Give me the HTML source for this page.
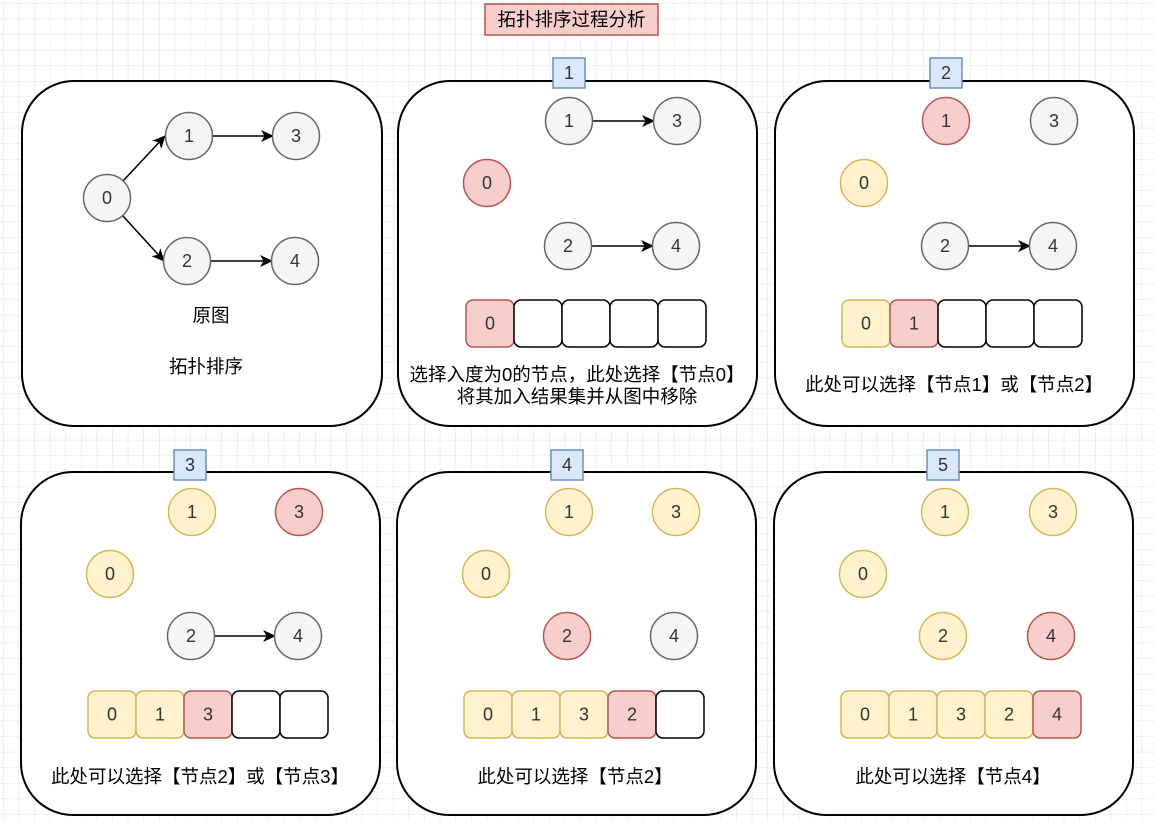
<!DOCTYPE html>
<html><head><meta charset="utf-8"><style>
html,body{margin:0;padding:0;background:#fff}
svg{display:block}
text{font-family:"Liberation Sans","Noto Sans CJK SC",sans-serif}
</style></head><body>
<svg width="1155" height="822" viewBox="0 0 1155 822" xmlns="http://www.w3.org/2000/svg">
<defs>
<pattern id="g" width="15.6" height="15.6" patternUnits="userSpaceOnUse" x="3" y="3">
<path d="M0 0H15.6M0 0V15.6" stroke="#e0e0e0" stroke-width="1" fill="none"/>
</pattern>
<marker id="a" markerWidth="13" markerHeight="12" refX="12" refY="6" orient="auto" markerUnits="userSpaceOnUse">
<path d="M0 0L13 6L0 12L3.5 6Z" fill="#000"/>
</marker>
<style>
.p{fill:#fff;stroke:#000;stroke-width:2}
.n{fill:#f5f5f5;stroke:#666;stroke-width:1.5}
.r{fill:#f8cecc;stroke:#b85450;stroke-width:1.5}
.y{fill:#fff2cc;stroke:#d6b656;stroke-width:1.5}
.w{fill:#fff;stroke:#000;stroke-width:1.5}
.b{fill:#dae8fc;stroke:#6c8ebf;stroke-width:1.5}
.t{font-size:18px;text-anchor:middle;dominant-baseline:central;fill:#333}
.c{font-size:18.5px;text-anchor:middle;fill:#000}
.e{stroke:#000;stroke-width:1.5;fill:none;marker-end:url(#a)}
</style>
</defs>
<rect width="1155" height="822" fill="url(#g)"/>

<rect x="485" y="4" width="173" height="31" class="r"/>
<text x="571.5" y="26" class="c">拓扑排序过程分析</text>

<rect x="22" y="81" width="360" height="345" rx="52" class="p"/>
<rect x="398" y="81" width="359" height="345" rx="52" class="p"/>
<rect x="775" y="81" width="359" height="345" rx="52" class="p"/>
<rect x="21" y="472" width="359" height="343" rx="52" class="p"/>
<rect x="397" y="472" width="359" height="343" rx="52" class="p"/>
<rect x="774" y="472" width="359" height="343" rx="52" class="p"/>

<rect x="553" y="58" width="32" height="30" class="b"/><text x="569" y="73" class="t">1</text>
<rect x="930" y="58" width="32" height="30" class="b"/><text x="946" y="73" class="t">2</text>
<rect x="174" y="450" width="32" height="30" class="b"/><text x="190" y="465" class="t">3</text>
<rect x="551" y="450" width="32" height="30" class="b"/><text x="567" y="465" class="t">4</text>
<rect x="927" y="450" width="32" height="30" class="b"/><text x="943" y="465" class="t">5</text>

<path d="M123 181L165 136" class="e"/>
<path d="M123 216L164 261" class="e"/>
<path d="M213 136L273 136" class="e"/>
<path d="M211 261L272 261" class="e"/>
<circle cx="107" cy="198" r="23.5" class="n"/><text x="107" y="198" class="t">0</text>
<circle cx="189" cy="136" r="23.5" class="n"/><text x="189" y="136" class="t">1</text>
<circle cx="296" cy="136" r="23.5" class="n"/><text x="296" y="136" class="t">3</text>
<circle cx="187" cy="261" r="23.5" class="n"/><text x="187" y="261" class="t">2</text>
<circle cx="295" cy="261" r="23.5" class="n"/><text x="295" y="261" class="t">4</text>
<text x="211" y="322" class="c">原图</text>
<text x="206" y="373" class="c">拓扑排序</text>

<path d="M593 121L654 121" class="e"/>
<path d="M592 246L653 246" class="e"/>
<circle cx="569" cy="121" r="23.5" class="n"/><text x="569" y="121" class="t">1</text>
<circle cx="677" cy="121" r="23.5" class="n"/><text x="677" y="121" class="t">3</text>
<circle cx="487" cy="183" r="23.5" class="r"/><text x="487" y="183" class="t">0</text>
<circle cx="568" cy="246" r="23.5" class="n"/><text x="568" y="246" class="t">2</text>
<circle cx="676" cy="246" r="23.5" class="n"/><text x="676" y="246" class="t">4</text>
<rect x="466" y="300" width="48" height="47" rx="7" class="r"/><text x="490" y="323.5" class="t">0</text>
<rect x="514" y="300" width="48" height="47" rx="7" class="w"/>
<rect x="562" y="300" width="48" height="47" rx="7" class="w"/>
<rect x="610" y="300" width="48" height="47" rx="7" class="w"/>
<rect x="658" y="300" width="48" height="47" rx="7" class="w"/>
<text x="577" y="381" class="c">选择入度为0的节点，此处选择【节点0】</text>
<text x="577" y="403" class="c">将其加入结果集并从图中移除</text>

<path d="M969 246L1030 246" class="e"/>
<circle cx="946" cy="121" r="23.5" class="r"/><text x="946" y="121" class="t">1</text>
<circle cx="1054" cy="121" r="23.5" class="n"/><text x="1054" y="121" class="t">3</text>
<circle cx="864" cy="183" r="23.5" class="y"/><text x="864" y="183" class="t">0</text>
<circle cx="945" cy="246" r="23.5" class="n"/><text x="945" y="246" class="t">2</text>
<circle cx="1053" cy="246" r="23.5" class="n"/><text x="1053" y="246" class="t">4</text>
<rect x="842" y="300" width="48" height="47" rx="7" class="y"/><text x="866" y="323.5" class="t">0</text>
<rect x="890" y="300" width="48" height="47" rx="7" class="r"/><text x="914" y="323.5" class="t">1</text>
<rect x="938" y="300" width="48" height="47" rx="7" class="w"/>
<rect x="986" y="300" width="48" height="47" rx="7" class="w"/>
<rect x="1034" y="300" width="48" height="47" rx="7" class="w"/>
<text x="954" y="391" class="c">此处可以选择【节点1】或【节点2】</text>

<path d="M215 636L275 636" class="e"/>
<circle cx="192" cy="512" r="23.5" class="y"/><text x="192" y="512" class="t">1</text>
<circle cx="299" cy="512" r="23.5" class="r"/><text x="299" y="512" class="t">3</text>
<circle cx="110" cy="574" r="23.5" class="y"/><text x="110" y="574" class="t">0</text>
<circle cx="191" cy="636" r="23.5" class="n"/><text x="191" y="636" class="t">2</text>
<circle cx="298" cy="636" r="23.5" class="n"/><text x="298" y="636" class="t">4</text>
<rect x="88" y="691" width="48" height="47" rx="7" class="y"/><text x="112" y="714.5" class="t">0</text>
<rect x="136" y="691" width="48" height="47" rx="7" class="y"/><text x="160" y="714.5" class="t">1</text>
<rect x="184" y="691" width="48" height="47" rx="7" class="r"/><text x="208" y="714.5" class="t">3</text>
<rect x="232" y="691" width="48" height="47" rx="7" class="w"/>
<rect x="280" y="691" width="48" height="47" rx="7" class="w"/>
<text x="200" y="783" class="c">此处可以选择【节点2】或【节点3】</text>

<circle cx="569" cy="512" r="23.5" class="y"/><text x="569" y="512" class="t">1</text>
<circle cx="676" cy="512" r="23.5" class="y"/><text x="676" y="512" class="t">3</text>
<circle cx="486" cy="574" r="23.5" class="y"/><text x="486" y="574" class="t">0</text>
<circle cx="567" cy="636" r="23.5" class="r"/><text x="567" y="636" class="t">2</text>
<circle cx="674" cy="636" r="23.5" class="n"/><text x="674" y="636" class="t">4</text>
<rect x="464" y="691" width="48" height="47" rx="7" class="y"/><text x="488" y="714.5" class="t">0</text>
<rect x="512" y="691" width="48" height="47" rx="7" class="y"/><text x="536" y="714.5" class="t">1</text>
<rect x="560" y="691" width="48" height="47" rx="7" class="y"/><text x="584" y="714.5" class="t">3</text>
<rect x="608" y="691" width="48" height="47" rx="7" class="r"/><text x="632" y="714.5" class="t">2</text>
<rect x="656" y="691" width="48" height="47" rx="7" class="w"/>
<text x="575" y="783" class="c">此处可以选择【节点2】</text>

<circle cx="945" cy="512" r="23.5" class="y"/><text x="945" y="512" class="t">1</text>
<circle cx="1053" cy="512" r="23.5" class="y"/><text x="1053" y="512" class="t">3</text>
<circle cx="863" cy="574" r="23.5" class="y"/><text x="863" y="574" class="t">0</text>
<circle cx="943" cy="636" r="23.5" class="y"/><text x="943" y="636" class="t">2</text>
<circle cx="1051" cy="636" r="23.5" class="r"/><text x="1051" y="636" class="t">4</text>
<rect x="841" y="691" width="48" height="47" rx="7" class="y"/><text x="865" y="714.5" class="t">0</text>
<rect x="889" y="691" width="48" height="47" rx="7" class="y"/><text x="913" y="714.5" class="t">1</text>
<rect x="937" y="691" width="48" height="47" rx="7" class="y"/><text x="961" y="714.5" class="t">3</text>
<rect x="985" y="691" width="48" height="47" rx="7" class="y"/><text x="1009" y="714.5" class="t">2</text>
<rect x="1033" y="691" width="48" height="47" rx="7" class="r"/><text x="1057" y="714.5" class="t">4</text>
<text x="953" y="783" class="c">此处可以选择【节点4】</text>
</svg>
</body></html>
